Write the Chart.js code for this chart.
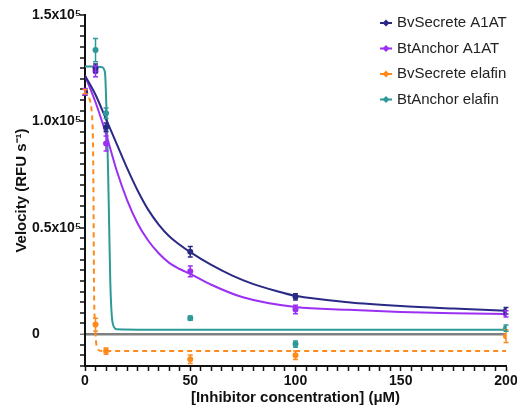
<!DOCTYPE html>
<html lang="en">
<head>
<meta charset="UTF-8">
<title>Velocity vs inhibitor concentration</title>
<script src="https://cdn.jsdelivr.net/npm/chart.js"></script>
<style>
  body { margin: 0; background: #fff; }
  #wrap { width: 517px; height: 414px; position: relative; }
</style>
</head>
<body>
<div id="wrap"><canvas id="velChart" width="517" height="414"></canvas></div>
<script>
/*** DATA ***/
const seriesNames = ['BvSecrete A1AT', 'BtAnchor A1AT', 'BvSecrete elafin', 'BtAnchor elafin'];
const seriesColors = ['#2a2a86', '#9b30f2', '#ff8a1c', '#2d9a97'];

// measured points (mean) and error bars
const pointX = [0, 5, 10, 50, 100, 200];
const bvA1atY = [113800, 125000, 97200, 38700, 17500, 11000];
const bvA1atErr = [1500, 2000, 2000, 2500, 1500, 1500];
const btA1atY = [114000, 123500, 89600, 29500, 11600, 9500];
const btA1atErr = [1500, 2500, 3500, 2500, 2000, 1500];
const bvElafinY = [114000, 4500, -8000, -11800, -10000, -1000];
const bvElafinErr = [1000, 3000, 1500, 2000, 2000, 3000];
const btElafinX = [5, 10, 50, 100, 200];
const btElafinY = [133500, 103800, 7500, -4700, 2800];
const btElafinErr = [5500, 2500, 1000, 1500, 1500];

// fitted curves, sampled from the figure
const bvA1atFitX = [0, 5, 10, 15, 20, 25, 30, 35, 40, 45, 50, 60, 70, 80, 90, 100, 125, 150, 175, 200];
const bvA1atFitY = [121500, 112500, 101000, 89500, 78000, 67500, 58500, 51500, 46000, 42000, 38500, 32500, 27500, 23500, 20500, 18000, 15000, 13200, 12000, 11000];
const btA1atFitX = [0, 5, 10, 15, 20, 25, 30, 35, 40, 45, 50, 60, 75, 100, 125, 150, 175, 200];
const btA1atFitY = [121500, 109000, 94000, 77000, 63000, 52000, 44000, 38000, 33500, 30600, 28300, 23200, 17300, 12700, 11400, 10400, 9800, 9400];
const bvElafinFitX = [0, 1, 2, 3, 3.5, 3.8, 4, 4.3, 4.8, 5.2, 6, 7, 8.5, 50, 100, 200];
const bvElafinFitY = [114800, 113500, 111000, 106500, 100000, 90000, 70000, 20000, 5000, -3000, -6800, -7800, -8000, -8000, -8000, -8000];
const btElafinFitX = [0, 5, 8, 9.5, 10, 10.5, 11, 11.5, 12, 12.5, 13, 14, 15, 50, 100, 200];
const btElafinFitY = [125800, 125800, 125500, 123000, 112000, 95000, 75000, 50000, 25000, 12000, 6000, 3000, 2300, 2000, 2000, 2000];

// axis labels
const yLabelValues = [0, 50000, 100000, 150000];
const yLabelText = ['0', '0.5x10\u2075', '1.0x10\u2075', '1.5x10\u2075'];
const xLabelValues = [0, 50, 100, 150, 200];

/*** BUILD DATASETS ***/
const FONT = "'Liberation Sans', Arial, sans-serif";
const toXY = (xs, ys) => xs.map((x, i) => ({ x: x, y: ys[i] }));

const fits = [
  [bvA1atFitX, bvA1atFitY],
  [btA1atFitX, btA1atFitY],
  [bvElafinFitX, bvElafinFitY],
  [btElafinFitX, btElafinFitY]
];
const pts = [
  [pointX, bvA1atY, bvA1atErr],
  [pointX, btA1atY, btA1atErr],
  [pointX, bvElafinY, bvElafinErr],
  [btElafinX, btElafinY, btElafinErr]
];

const datasets = [];
pts.forEach((p, i) => {
  datasets.push({
    label: seriesNames[i],
    data: toXY(p[0], p[1]),
    errors: p[2],
    showLine: false,
    pointRadius: 3,
    pointStyle: 'circle',
    backgroundColor: seriesColors[i],
    borderColor: seriesColors[i],
    borderWidth: 0
  });
});
fits.forEach((f, i) => {
  datasets.push({
    label: seriesNames[i] + ' fit',
    data: toXY(f[0], f[1]),
    showLine: true,
    pointRadius: 0,
    borderColor: seriesColors[i],
    borderWidth: 2,
    borderDash: i === 2 ? [5, 4] : [],
    cubicInterpolationMode: 'monotone',
    fill: false
  });
});

/*** PLUGINS: error bars + legend inside the plot ***/
const errorBars = {
  id: 'errorBars',
  afterDatasetsDraw(chart) {
    const ctx = chart.ctx;
    const ys = chart.scales.y;
    chart.data.datasets.forEach((ds, di) => {
      if (!ds.errors) return;
      const meta = chart.getDatasetMeta(di);
      ctx.save();
      ctx.strokeStyle = ds.borderColor;
      ctx.lineWidth = 1.5;
      meta.data.forEach((pt, k) => {
        const v = ds.data[k].y, e = ds.errors[k];
        const top = ys.getPixelForValue(v + e);
        const bot = ys.getPixelForValue(v - e);
        ctx.beginPath();
        ctx.moveTo(pt.x, top); ctx.lineTo(pt.x, bot);
        ctx.moveTo(pt.x - 2.5, top); ctx.lineTo(pt.x + 2.5, top);
        ctx.moveTo(pt.x - 2.5, bot); ctx.lineTo(pt.x + 2.5, bot);
        ctx.stroke();
      });
      ctx.restore();
    });
  }
};

const insideLegend = {
  id: 'insideLegend',
  afterDraw(chart) {
    const ctx = chart.ctx;
    ctx.save();
    ctx.font = '15px ' + FONT;
    ctx.textBaseline = 'middle';
    seriesNames.forEach((name, i) => {
      const y = 23 + i * 25.5;
      ctx.strokeStyle = seriesColors[i];
      ctx.fillStyle = seriesColors[i];
      ctx.lineWidth = 2;
      ctx.beginPath(); ctx.moveTo(380, y); ctx.lineTo(392, y); ctx.stroke();
      ctx.beginPath();
      ctx.moveTo(386, y - 3.5); ctx.lineTo(389.5, y); ctx.lineTo(386, y + 3.5); ctx.lineTo(382.5, y);
      ctx.closePath(); ctx.fill();
      ctx.fillStyle = '#222';
      ctx.fillText(name, 397, y);
    });
    ctx.restore();
  }
};

/*** CHART ***/
new Chart(document.getElementById('velChart'), {
  type: 'scatter',
  data: { datasets: datasets },
  plugins: [errorBars, insideLegend],
  options: {
    responsive: false,
    animation: false,
    layout: { padding: { top: 15, right: 11, left: 32, bottom: 0 } },
    plugins: { legend: { display: false }, tooltip: { enabled: false } },
    scales: {
      x: {
        type: 'linear',
        min: 0, max: 200,
        afterBuildTicks(scale) {
          const t = [];
          for (let v = 0; v <= 200; v += 5) t.push({ value: v });
          scale.ticks = t;
        },
        afterFit(scale) { scale.height = 48; scale.paddingLeft = 0; scale.paddingRight = 0; },
        border: { color: '#111', width: 2 },
        grid: { drawOnChartArea: false, tickLength: 5, tickColor: '#111', tickWidth: 1.5 },
        ticks: {
          autoSkip: false, maxRotation: 0, padding: 2, color: '#111',
          font: { family: FONT, size: 14, weight: 'bold' },
          callback: (v) => xLabelValues.includes(v) ? String(v) : ''
        },
        title: {
          display: true, text: '[Inhibitor concentration] (\u03bcM)', color: '#111',
          font: { family: FONT, size: 15, weight: 'bold' }, padding: { top: 0, bottom: 7 }
        }
      },
      y: {
        min: -15000, max: 150000,
        afterBuildTicks(scale) {
          const t = [];
          for (let v = -15000; v <= 150000; v += 5000) t.push({ value: v });
          scale.ticks = t;
        },
        afterFit(scale) { scale.width = 53; scale.paddingTop = 0; scale.paddingBottom = 0; },
        border: { color: '#111', width: 2 },
        grid: {
          drawOnChartArea: true, tickLength: 5, tickWidth: 1.5,
          color: (c) => c.tick && c.tick.value === 0 ? '#808080' : 'rgba(0,0,0,0)',
          lineWidth: (c) => c.tick && c.tick.value === 0 ? 2.5 : 0,
          tickColor: (c) => c.tick && c.tick.value === 0 ? '#808080' : '#111'
        },
        ticks: {
          autoSkip: false, padding: 1, crossAlign: 'far', color: '#111',
          font: { family: FONT, size: 14, weight: 'bold' },
          callback: (v) => {
            const k = yLabelValues.indexOf(v);
            return k >= 0 ? yLabelText[k] : '';
          }
        },
        title: {
          display: true, text: 'Velocity (RFU s\u207B\u00B9)', color: '#111',
          font: { family: FONT, size: 15, weight: 'bold' }, padding: { top: -19, bottom: 0 }
        }
      }
    }
  }
});
</script>
</body>
</html>
